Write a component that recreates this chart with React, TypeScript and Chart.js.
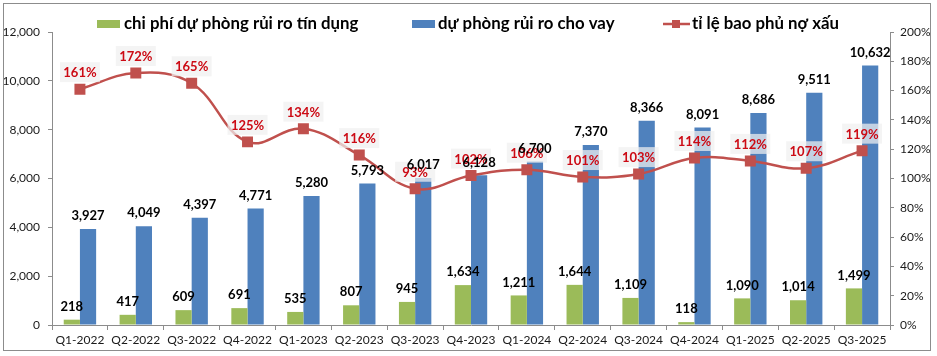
import React, { useEffect, useRef } from "react";
import { Chart, registerables } from "chart.js";

Chart.register(...registerables);

const categories = [
  "Q1-2022", "Q2-2022", "Q3-2022", "Q4-2022",
  "Q1-2023", "Q2-2023", "Q3-2023", "Q4-2023",
  "Q1-2024", "Q2-2024", "Q3-2024", "Q4-2024",
  "Q1-2025", "Q2-2025", "Q3-2025",
];
const creditProvisionCost = [218, 417, 609, 691, 535, 807, 945, 1634, 1211, 1644, 1109, 118, 1090, 1014, 1499];
const loanLossReserve = [3927, 4049, 4397, 4771, 5280, 5793, 6017, 6128, 6700, 7370, 8366, 8091, 8686, 9511, 10632];
const nplCoverage = [161, 172, 165, 125, 134, 116, 93, 102, 106, 101, 103, 114, 112, 107, 119];
const legendLabels = ["chi phí dự phòng rủi ro tín dụng", "dự phòng rủi ro cho vay", "tỉ lệ bao phủ nợ xấu"];

const GREEN = "#9BBB59";
const BLUE = "#4F81BD";
const RED = "#C0504D";
const LABEL_RED = "#CC0A14";
const FONT = "Lato, 'Liberation Sans', sans-serif";

const labelsPlugin = {
  id: "customLabels",
  afterDatasetsDraw(chart: any) {
    const ctx = chart.ctx;
    ctx.save();
    ctx.textAlign = "center";
    ctx.textBaseline = "middle";
    // line labels (drawn first, under bar labels)
    const lmeta = chart.getDatasetMeta(2);
    const ldata = chart.data.datasets[2].data as number[];
    ctx.font = `bold 13px ${FONT}`;
    lmeta.data.forEach((el: any, i: number) => {
      const cx = el.x;
      const cy = el.y - 17;
      ctx.fillStyle = "rgba(240,240,240,0.72)";
      ctx.fillRect(cx - 20, cy - 10, 40, 20);
      ctx.fillStyle = LABEL_RED;
      ctx.fillText(ldata[i] + "%", cx, cy + 1);
    });
    // bar labels
    [0, 1].forEach((di) => {
      const meta = chart.getDatasetMeta(di);
      const data = chart.data.datasets[di].data as number[];
      ctx.font = `bold 13px ${FONT}`;
      ctx.fillStyle = "#000";
      meta.data.forEach((el: any, i: number) => {
        ctx.fillText(data[i].toLocaleString("en-US"), el.x, el.y - 13);
      });
    });
    ctx.restore();
  },
  afterDraw(chart: any) {
    const ctx = chart.ctx;
    ctx.save();
    // outer border
    ctx.strokeStyle = "#8c8c8c";
    ctx.lineWidth = 1;
    ctx.strokeRect(3.5, 3.5, 927, 347);
    // legend
    const ly = 24;
    ctx.font = `bold 16.8px ${FONT}`;
    ctx.textBaseline = "middle";
    ctx.textAlign = "left";
    ctx.fillStyle = GREEN;
    ctx.fillRect(97, 20, 23, 8);
    ctx.fillStyle = "#000";
    ctx.fillText(legendLabels[0], 124, ly);
    ctx.fillStyle = BLUE;
    ctx.fillRect(412, 20, 23, 8);
    ctx.fillStyle = "#000";
    ctx.fillText(legendLabels[1], 438, ly);
    ctx.strokeStyle = RED;
    ctx.lineWidth = 2.5;
    ctx.beginPath();
    ctx.moveTo(663, ly);
    ctx.lineTo(690, ly);
    ctx.stroke();
    ctx.fillStyle = RED;
    ctx.fillRect(672, ly - 4, 8, 8);
    ctx.fillStyle = "#000";
    ctx.fillText(legendLabels[2], 692, ly);
    ctx.restore();
  },
};

export default function App() {
  const ref = useRef<HTMLCanvasElement | null>(null);
  useEffect(() => {
    document.body.style.margin = "0";
    if (!ref.current) return;
    const chart = new Chart(ref.current, {
      type: "bar",
      data: {
        labels: categories,
        datasets: [
          {
            type: "bar",
            label: legendLabels[0],
            data: creditProvisionCost,
            backgroundColor: GREEN,
            yAxisID: "y",
            order: 1,
            categoryPercentage: 0.58,
            barPercentage: 1,
          },
          {
            type: "bar",
            label: legendLabels[1],
            data: loanLossReserve,
            backgroundColor: BLUE,
            yAxisID: "y",
            order: 1,
            categoryPercentage: 0.58,
            barPercentage: 1,
          },
          {
            type: "line",
            label: legendLabels[2],
            data: nplCoverage,
            borderColor: RED,
            backgroundColor: RED,
            borderWidth: 2.5,
            tension: 0.4,
            pointStyle: "rect",
            pointRadius: 6,
            pointHoverRadius: 6,
            yAxisID: "y1",
            order: 0,
          } as any,
        ],
      },
      options: {
        responsive: false,
        animation: false,
        devicePixelRatio: 1,
        layout: { padding: { top: 32, left: 0, right: 0, bottom: 0 } },
        plugins: {
          legend: { display: false },
          tooltip: { enabled: false },
        },
        scales: {
          x: {
            grid: { display: true, drawOnChartArea: false, tickLength: 5, color: "#8c8c8c", offset: true },
            border: { display: true, color: "#8c8c8c" },
            ticks: { color: "#1a1a1a", font: { family: FONT, size: 12 }, padding: 3, maxRotation: 0, autoSkip: false },
            afterFit(scale: any) { scale.height = 31; },
          },
          y: {
            position: "left",
            min: 0,
            max: 12000,
            ticks: {
              stepSize: 2000,
              color: "#1a1a1a",
              font: { family: FONT, size: 12 },
              padding: 8,
              callback: (v: any) => Number(v).toLocaleString("en-US"),
            },
            grid: { display: true, drawOnChartArea: false, tickLength: 4, color: "#8c8c8c" },
            border: { display: true, color: "#8c8c8c" },
            afterFit(scale: any) { scale.width = 52; },
          },
          y1: {
            position: "right",
            min: 0,
            max: 200,
            ticks: {
              stepSize: 20,
              color: "#1a1a1a",
              font: { family: FONT, size: 12 },
              padding: 6,
              callback: (v: any) => v + "%",
            },
            grid: { display: true, drawOnChartArea: false, tickLength: 4, color: "#8c8c8c" },
            border: { display: true, color: "#8c8c8c" },
            afterFit(scale: any) { scale.width = 47; },
          },
        },
      },
      plugins: [labelsPlugin],
    });
    return () => chart.destroy();
  }, []);
  return <canvas ref={ref} width={937} height={356} style={{ display: "block" }} />;
}
